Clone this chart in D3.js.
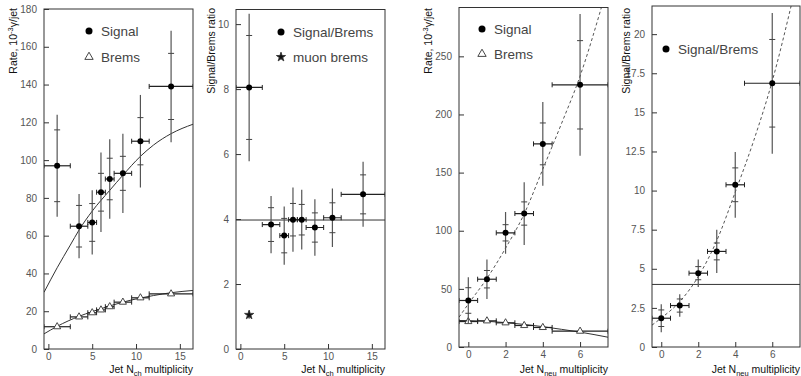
<!DOCTYPE html>
<html>
<head>
<meta charset="utf-8">
<script src="https://cdn.jsdelivr.net/npm/d3@7"></script>
<style>
  body { margin: 0; background: #fff; }
  svg { display: block; }
</style>
</head>
<body>
<svg id="chart"></svg>
<script>
// ---- Jet N_ch multiplicity (two left panels)
var chX = [1, 3.5, 5, 6, 7, 8.5, 10.5, 14]
var chHalfWidth = [1.5, 1, 0.5, 0.5, 0.5, 1, 1, 2.5]
var chSignal = [97, 65, 67, 83, 90, 93, 110, 139]
var chSignalStat = [19, 11, 10, 10, 11, 9, 12.5, 17.5]
var chSignalTot = [27, 17, 17, 21, 21, 21, 24.5, 29.5]
var chBrems = [11.8, 17, 19.2, 20.7, 22.4, 24.8, 27.1, 29.2]
var chBremsErr = [0.8, 0.7, 0.7, 0.7, 0.7, 0.7, 0.8, 0.9]
var chSignalFitX = [-0.5, 1, 2.5, 3.5, 5, 7, 8.5, 10.5, 12, 14, 16.5]
var chSignalFitY = [30, 43, 55, 63, 73, 84, 92, 102, 108, 114, 119]
var chBremsFitX = [-0.5, 1, 3.5, 5, 7, 8.5, 10.5, 12, 14, 16.5]
var chBremsFitY = [8, 12, 17.3, 19.8, 22.8, 24.8, 27, 28.3, 29.8, 31]
var chRatio = [8.05, 3.83, 3.49, 3.98, 3.98, 3.74, 4.04, 4.76]
var chRatioStat = [1.6, 0.52, 0.53, 0.5, 0.47, 0.45, 0.46, 0.6]
var chRatioTot = [2.27, 0.88, 0.9, 0.99, 0.92, 0.87, 0.9, 1.0]
var chRatioFit = 3.97
var muonX = [1]
var muonRatio = [1.05]
var muonErr = [0.12]

// ---- Jet N_neu multiplicity (two right panels)
var neuX = [0, 1, 2, 3, 4, 6]
var neuHalfWidth = [0.5, 0.5, 0.5, 0.5, 0.5, 1.5]
var neuSignal = [40, 58.3, 98.2, 114.8, 174.7, 225.5]
var neuSignalStat = [11, 7.5, 7, 10, 18, 38]
var neuSignalTot = [20, 17, 18, 27, 36, 61]
var neuBrems = [21.9, 22.5, 20.8, 18.5, 16.8, 13.6]
var neuBremsErr = [1, 1, 1, 1, 1, 1.2]
var neuSignalFitX = [-0.5, 0, 1, 2, 3, 4, 5, 6, 7.2]
var neuSignalFitY = [25.6, 37, 59, 85, 114.5, 153, 192, 233, 295]
var neuBremsFitX = [-0.5, 0, 1, 2, 3, 4, 5, 6, 7.5]
var neuBremsFitY = [22.8, 22.7, 22.1, 21, 19.4, 17.5, 15.2, 12.8, 8.4]
var neuRatio = [1.84, 2.65, 4.72, 6.11, 10.37, 16.86]
var neuRatioStat = [0.53, 0.42, 0.42, 0.54, 1.08, 2.8]
var neuRatioTot = [0.9, 0.72, 0.88, 1.38, 2.1, 4.5]
var neuRatioFitX = [-0.5, 0, 1, 2, 3, 4, 5, 6, 7.1]
var neuRatioFitY = [1.4, 1.85, 2.9, 4.5, 6.8, 9.9, 13.2, 17, 22.2]
var neuRatioLine = 4

// tick labels
var chXTicks = [0, 5, 10, 15]
var neuXTicks = [0, 2, 4, 6]
var rateChTicks = [0, 20, 40, 60, 80, 100, 120, 140, 160, 180]
var ratioChTicks = [0, 2, 4, 6, 8, 10]
var rateNeuTicks = [0, 50, 100, 150, 200, 250]
var ratioNeuTicks = [0, 2.5, 5, 7.5, 10, 12.5, 15, 17.5, 20]

var W = 801, H = 376
var FONT = "'Liberation Sans', Arial, Helvetica, sans-serif"
var svg = d3.select('#chart').attr('width', W).attr('height', H)

function drawAxes(p, x, y) {
  var gy = svg.append('g').attr('transform', 'translate(' + p.left + ',0)')
  gy.call(d3.axisLeft(y).tickValues(p.yMinor).tickSize(-2.5).tickFormat(''))
  gy.call(d3.axisLeft(y).tickValues(p.yMajor).tickSize(-5).tickPadding(7)
    .tickFormat(function (d) { return String(d) }))
  var gx = svg.append('g').attr('transform', 'translate(0,' + p.bottom + ')')
  gx.call(d3.axisBottom(x).tickValues(p.xMinor).tickSize(-2.5).tickFormat(''))
  gx.call(d3.axisBottom(x).tickValues(p.xMajor).tickSize(-5).tickPadding(3.5)
    .tickFormat(function (d) { return String(d) }))
  ;[gx, gy].forEach(function (g) {
    g.selectAll('.domain').remove()
    g.selectAll('line').attr('stroke', '#333')
    g.selectAll('text').attr('fill', '#555').attr('font-size', 10).attr('font-family', FONT)
  })
  svg.append('rect').attr('x', p.left).attr('y', p.top)
    .attr('width', p.right - p.left).attr('height', p.bottom - p.top)
    .attr('fill', 'none').attr('stroke', '#333').attr('stroke-width', 1)
}

function drawErrors(g, x, y, s) {
  var idx = s.x.map(function (d, i) { return i })
  var pt = g.append('g').selectAll('g').data(idx).enter().append('g')
  pt.append('line')
    .attr('x1', function (i) { return x(s.x[i]) }).attr('x2', function (i) { return x(s.x[i]) })
    .attr('y1', function (i) { return y(s.y[i] - s.tot[i]) })
    .attr('y2', function (i) { return y(s.y[i] + s.tot[i]) })
    .attr('stroke', '#555').attr('stroke-width', 1.2)
  if (s.stat) {
    [-1, 1].forEach(function (sg) {
      pt.append('line')
        .attr('x1', function (i) { return x(s.x[i]) - 3 }).attr('x2', function (i) { return x(s.x[i]) + 3 })
        .attr('y1', function (i) { return y(s.y[i] + sg * s.stat[i]) })
        .attr('y2', function (i) { return y(s.y[i] + sg * s.stat[i]) })
        .attr('stroke', '#444').attr('stroke-width', 1)
    })
  }
  if (s.half) {
    pt.append('line')
      .attr('x1', function (i) { return x(s.x[i] - s.half[i]) })
      .attr('x2', function (i) { return x(s.x[i] + s.half[i]) })
      .attr('y1', function (i) { return y(s.y[i]) }).attr('y2', function (i) { return y(s.y[i]) })
      .attr('stroke', '#222').attr('stroke-width', 1.2)
    ;[-1, 1].forEach(function (sg) {
      pt.append('line')
        .attr('x1', function (i) { return x(s.x[i] + sg * s.half[i]) })
        .attr('x2', function (i) { return x(s.x[i] + sg * s.half[i]) })
        .attr('y1', function (i) { return y(s.y[i]) - 2.5 }).attr('y2', function (i) { return y(s.y[i]) + 2.5 })
        .attr('stroke', '#222').attr('stroke-width', 1)
    })
  }
  var sym = null
  if (s.marker === 'triangle') sym = d3.symbol().type(d3.symbolTriangle).size(22)
  if (s.marker === 'star') sym = d3.symbol().type(d3.symbolStar).size(26)
  if (sym) {
    pt.append('path').attr('d', sym)
      .attr('transform', function (i) { return 'translate(' + x(s.x[i]) + ',' + y(s.y[i]) + ')' })
      .attr('fill', s.marker === 'star' ? '#111' : '#fff').attr('stroke', '#333').attr('stroke-width', 0.9)
  } else {
    pt.append('circle').attr('cx', function (i) { return x(s.x[i]) })
      .attr('cy', function (i) { return y(s.y[i]) }).attr('r', 3).attr('fill', '#000')
  }
}

function drawCurve(g, x, y, xs, ys, dashed) {
  var line = d3.line().x(function (d) { return x(d[0]) }).y(function (d) { return y(d[1]) })
    .curve(d3.curveMonotoneX)
  g.append('path').datum(xs.map(function (v, i) { return [v, ys[i]] }))
    .attr('d', line).attr('fill', 'none')
    .attr('stroke', dashed ? '#555' : '#333').attr('stroke-width', 1)
    .attr('stroke-dasharray', dashed ? '3,2.5' : null)
}

function drawLegend(items) {
  items.forEach(function (it) {
    if (it.marker === 'circle') {
      svg.append('circle').attr('cx', it.x).attr('cy', it.y).attr('r', 3.5).attr('fill', '#000')
    } else {
      var t = it.marker === 'triangle' ? d3.symbolTriangle : d3.symbolStar
      svg.append('path').attr('d', d3.symbol().type(t).size(it.marker === 'star' ? 26 : 30))
        .attr('transform', 'translate(' + it.x + ',' + it.y + ')')
        .attr('fill', it.marker === 'star' ? '#111' : 'none').attr('stroke', '#333').attr('stroke-width', 0.9)
    }
    svg.append('text').attr('x', it.x + 12).attr('y', it.y + 5).text(it.text)
      .attr('font-family', FONT).attr('font-size', 13.5).attr('fill', '#444')
  })
}

function yLabel(px, py, parts) {
  var t = svg.append('text').attr('transform', 'translate(' + px + ',' + py + ') rotate(-90)')
    .attr('text-anchor', 'end').attr('font-family', FONT).attr('font-size', 10.5).attr('fill', '#111')
  parts.forEach(function (p) {
    t.append('tspan').text(p.t).attr('dy', p.dy || 0).attr('font-size', p.fs || null)
  })
}

function xLabel(px, py, sub) {
  var t = svg.append('text').attr('x', px).attr('y', py).attr('text-anchor', 'end')
    .attr('font-family', FONT).attr('font-size', 10.5).attr('fill', '#111')
  t.append('tspan').text('Jet N')
  t.append('tspan').text(sub).attr('dy', 2.5).attr('font-size', 7.5)
  t.append('tspan').text(' multiplicity').attr('dy', -2.5)
}

function panel(p) {
  var x = d3.scaleLinear().domain(p.xDomain).range([p.left, p.right])
  var y = d3.scaleLinear().domain(p.yDomain).range([p.bottom, p.top])
  svg.append('clipPath').attr('id', 'clip' + p.id).append('rect')
    .attr('x', p.left).attr('y', p.top).attr('width', p.right - p.left).attr('height', p.bottom - p.top)
  var g = svg.append('g').attr('clip-path', 'url(#clip' + p.id + ')')
  p.draw(g, x, y)
  drawAxes(p, x, y)
}

var rateLabel = [{ t: 'Rate, 10' }, { t: '-3', dy: -4, fs: 7.5 }, { t: 'γ/jet', dy: 4 }]
var ratioLabel = [{ t: 'Signal/Brems ratio' }]

// panel 1: rate vs N_ch
panel({
  id: 1, left: 44, right: 193, top: 9, bottom: 349,
  xDomain: [-0.5, 16.5], yDomain: [0, 180],
  xMajor: chXTicks, xMinor: d3.range(0, 17, 1),
  yMajor: rateChTicks, yMinor: d3.range(0, 181, 5),
  draw: function (g, x, y) {
    drawCurve(g, x, y, chSignalFitX, chSignalFitY, false)
    drawCurve(g, x, y, chBremsFitX, chBremsFitY, false)
    drawErrors(g, x, y, { x: chX, y: chBrems, tot: chBremsErr, half: chHalfWidth, marker: 'triangle' })
    drawErrors(g, x, y, { x: chX, y: chSignal, stat: chSignalStat, tot: chSignalTot, half: chHalfWidth })
  }
})
drawLegend([{ x: 89, y: 31, marker: 'circle', text: 'Signal' }, { x: 89, y: 57, marker: 'triangle', text: 'Brems' }])
yLabel(17, 8, rateLabel)
xLabel(193, 373, 'ch')

// panel 2: ratio vs N_ch
panel({
  id: 2, left: 236, right: 385, top: 9.5, bottom: 349,
  xDomain: [-0.5, 16.5], yDomain: [0, 10.45],
  xMajor: chXTicks, xMinor: d3.range(0, 17, 1),
  yMajor: ratioChTicks, yMinor: d3.range(0, 10.5, 0.5),
  draw: function (g, x, y) {
    drawCurve(g, x, y, [-0.5, 16.5], [chRatioFit, chRatioFit], false)
    drawErrors(g, x, y, { x: chX, y: chRatio, stat: chRatioStat, tot: chRatioTot, half: chHalfWidth })
    drawErrors(g, x, y, { x: muonX, y: muonRatio, tot: muonErr, marker: 'star' })
  }
})
drawLegend([{ x: 281, y: 32, marker: 'circle', text: 'Signal/Brems' }, { x: 281, y: 57, marker: 'star', text: 'muon brems' }])
yLabel(215, 8, ratioLabel)
xLabel(385, 373, 'ch')

// panel 3: rate vs N_neu
panel({
  id: 3, left: 459, right: 608, top: 7.5, bottom: 347,
  xDomain: [-0.5, 7.5], yDomain: [0, 292],
  xMajor: neuXTicks, xMinor: d3.range(-0.5, 7.6, 0.5),
  yMajor: rateNeuTicks, yMinor: d3.range(0, 291, 10),
  draw: function (g, x, y) {
    drawCurve(g, x, y, neuSignalFitX, neuSignalFitY, true)
    drawCurve(g, x, y, neuBremsFitX, neuBremsFitY, false)
    drawErrors(g, x, y, { x: neuX, y: neuBrems, tot: neuBremsErr, half: neuHalfWidth, marker: 'triangle' })
    drawErrors(g, x, y, { x: neuX, y: neuSignal, stat: neuSignalStat, tot: neuSignalTot, half: neuHalfWidth })
  }
})
drawLegend([{ x: 482, y: 29, marker: 'circle', text: 'Signal' }, { x: 482, y: 54, marker: 'triangle', text: 'Brems' }])
yLabel(432, 8, rateLabel)
xLabel(608, 373, 'neu')

// panel 4: ratio vs N_neu
panel({
  id: 4, left: 652, right: 800, top: 6, bottom: 347,
  xDomain: [-0.5, 7.5], yDomain: [0, 21.8],
  xMajor: neuXTicks, xMinor: d3.range(-0.5, 7.6, 0.5),
  yMajor: ratioNeuTicks, yMinor: d3.range(0, 21.6, 0.5),
  draw: function (g, x, y) {
    drawCurve(g, x, y, [-0.5, 7.5], [neuRatioLine, neuRatioLine], false)
    drawCurve(g, x, y, neuRatioFitX, neuRatioFitY, true)
    drawErrors(g, x, y, { x: neuX, y: neuRatio, stat: neuRatioStat, tot: neuRatioTot, half: neuHalfWidth })
  }
})
drawLegend([{ x: 666, y: 49, marker: 'circle', text: 'Signal/Brems' }])
yLabel(630, 8, ratioLabel)
xLabel(800, 373, 'neu')
</script>
</body>
</html>
